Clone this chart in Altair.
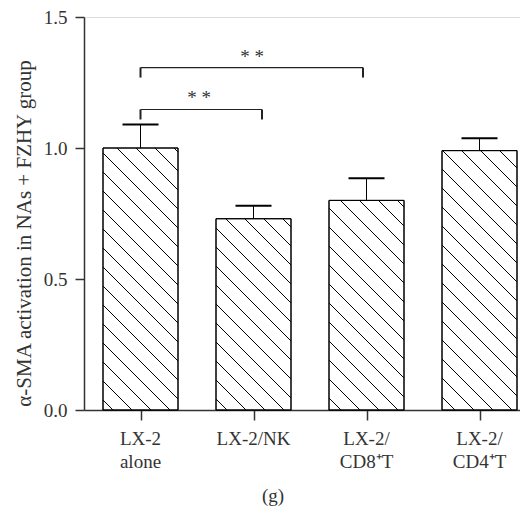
import altair as alt
import pandas as pd

# ---- data ----
categories = ["LX-2\nalone", "LX-2/NK", "LX-2/\nCD8\u207aT", "LX-2/\nCD4\u207aT"]
means = [1.00, 0.73, 0.80, 0.99]
err_top = [1.09, 0.78, 0.885, 1.037]
y_ticks = [0.0, 0.5, 1.0, 1.5]

# significance brackets and their labels
brk_x1 = [0.5, 0.5]
brk_x2 = [1.575, 2.469]
brk_y = [1.147, 1.307]
star_x = [1.018, 1.487]
star_y = [1.204, 1.36]
star_txt = ["* *", "* *"]

# ---- layout / style ----
W, H = 436, 393
SX = 113.0              # px per category unit
SY = H / 1.5            # px per y unit
XMAX = W / SX
HW = 37.5 / SX          # bar half width
CAP = 18 / SX           # error cap half width
TICK = 10 / SY          # bracket end tick length
HATCH = 19              # hatch spacing (px, vertical)
FONT = "Liberation Serif"
AX = "#333333"

pos = [i + 0.5 for i in range(len(categories))]
bars = pd.DataFrame({"cat": categories, "x": pos, "m": means, "e": err_top})
bars["x0"] = bars["x"] - HW
bars["x1"] = bars["x"] + HW
bars["c0"] = bars["x"] - CAP
bars["c1"] = bars["x"] + CAP

# hatch segments (45 deg, top-left to bottom-right) clipped to each bar
segs = []
for xc, m in zip(pos, means):
    px0, px1 = (xc - HW) * SX, (xc + HW) * SX
    ptop, pbot = (1.5 - m) * SY, H
    c = 3 - HATCH * 60
    while c < H + 10:
        a = max(px0, ptop - c)
        b = min(px1, pbot - c)
        if b - a > 0.5:
            segs.append({"xa": a / SX, "ya": 1.5 - (a + c) / SY,
                         "xb": b / SX, "yb": 1.5 - (b + c) / SY})
        c += HATCH
hatch = pd.DataFrame(segs)

brk = pd.DataFrame({"x1": brk_x1, "x2": brk_x2, "y": brk_y})
brk["yl"] = brk["y"] - TICK
stars = pd.DataFrame({"x": star_x, "y": star_y, "t": star_txt})

xs = alt.Scale(domain=[0, XMAX], nice=False, zero=False)
ys = alt.Scale(domain=[0, 1.5], nice=False)

yaxis = alt.Axis(values=y_ticks, format=".1f", grid=False, tickSize=9,
                 labelPadding=8, labelFont=FONT, labelFontSize=19,
                 labelColor=AX, domainColor=AX, tickColor=AX,
                 domainWidth=1.5, tickWidth=1.5,
                 title="\u03b1-SMA activation in NAs + FZHY group",
                 titleFont=FONT, titleFontSize=21, titleFontWeight="normal",
                 titleColor=AX, titlePadding=9, titleY=216)
xaxis = alt.Axis(values=pos, labels=False, grid=False, tickSize=10,
                 domainColor=AX, tickColor=AX, domainWidth=1.5,
                 tickWidth=1.5, title=None)

base_bars = alt.Chart(bars)

rect = base_bars.mark_rect(fill="white", stroke="black", strokeWidth=1).encode(
    x=alt.X("x0:Q", scale=xs, axis=xaxis),
    x2="x1:Q",
    y=alt.Y("m:Q", scale=ys, axis=yaxis),
    y2=alt.datum(0),
)

hatch_l = alt.Chart(hatch).mark_rule(color="black", strokeWidth=1).encode(
    x=alt.X("xa:Q", scale=xs), x2="xb:Q",
    y=alt.Y("ya:Q", scale=ys), y2="yb:Q",
)

outline = base_bars.mark_rect(fill=None, stroke="black", strokeWidth=1).encode(
    x=alt.X("x0:Q", scale=xs), x2="x1:Q",
    y=alt.Y("m:Q", scale=ys), y2=alt.datum(0),
)

stem = base_bars.mark_rule(color="black", strokeWidth=1).encode(
    x=alt.X("x:Q", scale=xs), y=alt.Y("m:Q", scale=ys), y2="e:Q",
)
cap = base_bars.mark_rule(color="black", strokeWidth=2).encode(
    x=alt.X("c0:Q", scale=xs), x2="c1:Q", y=alt.Y("e:Q", scale=ys),
)

brk_h = alt.Chart(brk).mark_rule(color="#222222", strokeWidth=1.2).encode(
    x=alt.X("x1:Q", scale=xs), x2="x2:Q", y=alt.Y("y:Q", scale=ys),
)
brk_l = alt.Chart(brk).mark_rule(color="#222222", strokeWidth=2).encode(
    x=alt.X("x1:Q", scale=xs), y=alt.Y("y:Q", scale=ys), y2="yl:Q",
)
brk_r = alt.Chart(brk).mark_rule(color="#222222", strokeWidth=2).encode(
    x=alt.X("x2:Q", scale=xs), y=alt.Y("y:Q", scale=ys), y2="yl:Q",
)
star_l = alt.Chart(stars).mark_text(font=FONT, fontSize=19, color="#333333",
                                    baseline="middle", align="center",
                                    dy=3).encode(
    x=alt.X("x:Q", scale=xs), y=alt.Y("y:Q", scale=ys), text="t:N",
)

labels = base_bars.mark_text(font=FONT, fontSize=19, color=AX, baseline="top",
                             align="center", lineBreak="\n",
                             lineHeight=23).encode(
    x=alt.X("x:Q", scale=xs), y=alt.value(H + 20), text="cat:N",
)

caption = alt.Chart(pd.DataFrame({"t": ["(g)"]})).mark_text(
    font=FONT, fontSize=19, color=AX, baseline="middle", align="center"
).encode(x=alt.value(189), y=alt.value(479), text="t:N")

chart = alt.layer(rect, hatch_l, outline, stem, cap, brk_h, brk_l, brk_r,
                  star_l, labels, caption).properties(
    width=W, height=H,
    autosize=alt.AutoSizeParams(type="none"),
    padding={"left": 76, "top": 9, "right": 0, "bottom": 97},
).configure_view(stroke=None).configure(background="white")

chart.save("out.html", embed_options={"renderer": "svg", "actions": False})
